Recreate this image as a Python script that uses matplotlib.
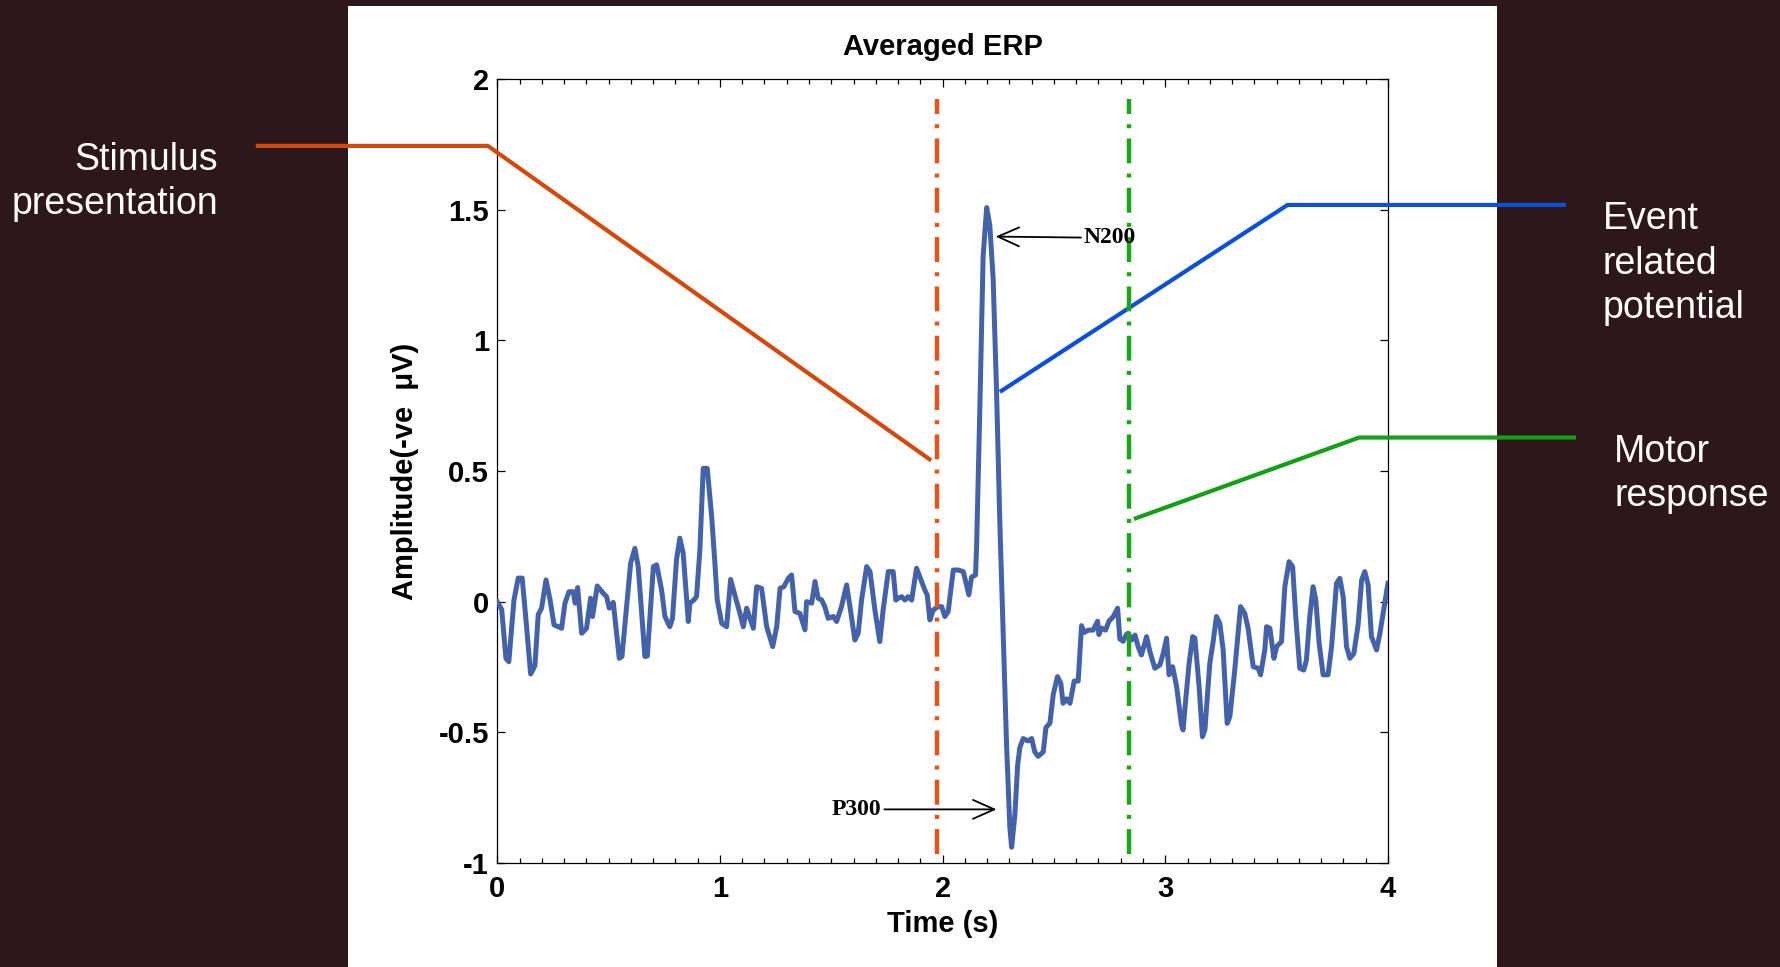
import matplotlib
matplotlib.use('Agg')
import matplotlib.pyplot as plt
from matplotlib.patches import Rectangle
from matplotlib.ticker import MultipleLocator

plt.rcParams['font.family'] = ['Liberation Sans', 'DejaVu Sans']

# averaged ERP trace (time in s, amplitude)
t_a = [0.0, 0.02, 0.039, 0.052, 0.075, 0.094, 0.112, 0.129, 0.15, 0.169,
       0.184, 0.199, 0.219, 0.237, 0.255, 0.274, 0.289, 0.304, 0.322, 0.341,
       0.35, 0.361, 0.379, 0.401, 0.419, 0.428, 0.449, 0.476, 0.491, 0.503,
       0.521, 0.548, 0.56, 0.581, 0.599, 0.618, 0.633, 0.663, 0.674, 0.701,
       0.716, 0.738, 0.753, 0.775, 0.787, 0.805, 0.82, 0.835, 0.858, 0.865,
       0.883, 0.895, 0.91, 0.925, 0.943, 0.963, 0.977, 0.988]
y_a = [0.0, -0.03, -0.217, -0.23, 0.006, 0.09, 0.09, -0.07, -0.277, -0.246,
       -0.05, -0.025, 0.083, 0.008, -0.089, -0.096, -0.102, -0.006, 0.038, 0.038,
       -0.006, 0.054, -0.121, -0.102, 0.013, -0.057, 0.06, 0.032, 0.019, -0.025,
       -0.003, -0.217, -0.21, -0.019, 0.147, 0.204, 0.134, -0.21, -0.208, 0.134,
       0.141, 0.045, -0.057, -0.096, -0.064, 0.16, 0.243, 0.185, -0.076, -0.006,
       0.006, 0.019, 0.198, 0.51, 0.51, 0.325, 0.153, 0.006]

t_b = [1.008, 1.03, 1.048, 1.067, 1.09, 1.105, 1.12, 1.135, 1.15, 1.165,
       1.187, 1.21, 1.237, 1.255, 1.27, 1.287, 1.307, 1.322, 1.337, 1.359,
       1.382, 1.389, 1.412, 1.427, 1.441, 1.457, 1.471, 1.486, 1.509, 1.524,
       1.546, 1.569, 1.584, 1.606, 1.621, 1.636, 1.659, 1.674, 1.696, 1.718,
       1.733, 1.756, 1.778, 1.79, 1.801, 1.816, 1.831, 1.845, 1.861, 1.883,
       1.906, 1.92, 1.931, 1.943, 1.958, 1.98, 1.996, 2.01, 2.025, 2.048,
       2.07, 2.093]
y_b = [-0.083, -0.096, 0.085, 0.025, -0.045, -0.096, -0.025, -0.064, -0.102, 0.057,
       0.051, -0.096, -0.172, -0.096, 0.051, 0.057, 0.089, 0.102, -0.038, -0.045,
       -0.108, 0.0, -0.006, 0.077, 0.013, 0.006, -0.019, -0.064, -0.057, -0.076,
       -0.019, 0.064, -0.019, -0.147, -0.121, 0.006, 0.134, 0.115, -0.032, -0.153,
       -0.032, 0.115, 0.115, 0.006, 0.013, 0.019, 0.006, 0.019, 0.006, 0.128,
       0.077, 0.045, 0.025, -0.07, -0.032, -0.019, -0.019, -0.057, -0.038, 0.121,
       0.121, 0.115]

t_c = [2.118, 2.13, 2.148, 2.153, 2.167, 2.182, 2.198, 2.212, 2.227, 2.242,
       2.257, 2.272, 2.287, 2.302, 2.31, 2.325, 2.337, 2.347, 2.362, 2.384,
       2.4, 2.414, 2.429, 2.452, 2.464, 2.482, 2.497, 2.516, 2.531, 2.541,
       2.557, 2.572, 2.591, 2.609, 2.624, 2.636, 2.654, 2.676, 2.696, 2.702,
       2.714, 2.732, 2.747, 2.766, 2.786, 2.796, 2.811, 2.825]
y_c = [0.026, 0.094, 0.102, 0.221, 0.729, 1.321, 1.508, 1.44, 1.237, 0.814,
       0.305, -0.118, -0.541, -0.863, -0.94, -0.812, -0.626, -0.558, -0.524, -0.533,
       -0.524, -0.575, -0.592, -0.575, -0.482, -0.465, -0.355, -0.287, -0.313, -0.389,
       -0.372, -0.389, -0.304, -0.304, -0.092, -0.118, -0.109, -0.109, -0.075, -0.126,
       -0.101, -0.109, -0.075, -0.058, -0.025, -0.143, -0.152, -0.126]

t_d = [2.833, 2.849, 2.864, 2.878, 2.893, 2.916, 2.931, 2.953, 2.976, 2.991,
       3.006, 3.017, 3.033, 3.051, 3.073, 3.08, 3.093, 3.107, 3.123, 3.133,
       3.152, 3.167, 3.178, 3.2, 3.215, 3.23, 3.245, 3.26, 3.278, 3.29,
       3.312, 3.327, 3.338, 3.357, 3.372, 3.395, 3.417, 3.428, 3.447, 3.455,
       3.47, 3.488, 3.5, 3.522, 3.537, 3.556, 3.572, 3.586, 3.604, 3.622,
       3.634, 3.649, 3.664, 3.676, 3.691, 3.709, 3.731, 3.747, 3.769, 3.784,
       3.799, 3.814, 3.829, 3.847, 3.866, 3.882, 3.896, 3.911, 3.926, 3.949,
       3.964, 4.0]
y_d = [-0.121, -0.147, -0.128, -0.172, -0.204, -0.134, -0.191, -0.255, -0.242, -0.198,
       -0.14, -0.28, -0.249, -0.325, -0.472, -0.491, -0.364, -0.236, -0.134, -0.14,
       -0.325, -0.517, -0.491, -0.236, -0.153, -0.057, -0.083, -0.185, -0.466, -0.44,
       -0.262, -0.121, -0.019, -0.045, -0.102, -0.249, -0.255, -0.28, -0.185, -0.096,
       -0.102, -0.217, -0.172, -0.153, 0.057, 0.153, 0.134, -0.057, -0.255, -0.262,
       -0.223, -0.057, 0.057, 0.006, -0.159, -0.28, -0.28, -0.172, 0.07, 0.089,
       0.019, -0.172, -0.217, -0.198, -0.089, 0.083, 0.115, 0.064, -0.134, -0.185,
       -0.121, 0.07]

time_s = t_a + t_b + t_c + t_d
amplitude = y_a + y_b + y_c + y_d

# event markers
stim_time = 1.976
motor_time = 2.837
marker_lo, marker_hi = -0.966, 1.925

# callout lines (data units, run out past the axes)
stim_call_t = [-1.075, -0.042, 1.941]
stim_call_y = [1.744, 1.744, 0.545]
erp_call_t = [2.265, 3.549, 4.79]
erp_call_y = [0.807, 1.518, 1.518]
motor_call_t = [2.868, 3.871, 4.835]
motor_call_y = [0.319, 0.628, 0.628]

xticks = [0, 1, 2, 3, 4]
xtick_labels = ['0', '1', '2', '3', '4']
yticks = [-1, -0.5, 0, 0.5, 1, 1.5, 2]
ytick_labels = ['-1', '-0.5', '0', '0.5', '1', '1.5', '2']

bg = '#2e171b'
fig = plt.figure(figsize=(17.81, 9.67), dpi=100, facecolor=bg)
fig.add_artist(Rectangle((0.1954, 0), 0.6451, 0.9938, transform=fig.transFigure,
                         facecolor='white', edgecolor='none', zorder=-1))

ax = fig.add_axes([0.2792, 0.1076, 0.5001, 0.8107])
ax.plot(time_s, amplitude, color='#4462aa', lw=3.6, solid_joinstyle='round', zorder=3)

ax.plot(stim_call_t, stim_call_y, color='#d4490b', lw=3.0, clip_on=False, zorder=4)
ax.plot(erp_call_t, erp_call_y, color='#0b50d8', lw=3.0, clip_on=False, zorder=4)
ax.plot(motor_call_t, motor_call_y, color='#14a014', lw=3.0, clip_on=False, zorder=4)

ax.plot([stim_time, stim_time], [marker_lo, marker_hi], color='#e4531b', lw=3.2,
        dashes=(5.6, 2.3, 0.9, 2.3), zorder=5)
ax.plot([motor_time, motor_time], [marker_lo, marker_hi], color='#1aa61a', lw=3.2,
        dashes=(5.6, 2.3, 0.9, 2.3), zorder=5)

serif = ['Liberation Serif', 'DejaVu Serif']
arrow = dict(arrowstyle='->,head_length=0.9,head_width=0.4', color='black', lw=1.3,
             shrinkA=0, shrinkB=0)
ax.annotate('N200', xy=(2.238, 1.397), xytext=(2.634, 1.392), ha='left', va='center',
            family=serif, fontsize=17, fontweight='bold', arrowprops=arrow, zorder=6)
ax.annotate('P300', xy=(2.242, -0.795), xytext=(1.726, -0.795), ha='right', va='center',
            family=serif, fontsize=17, fontweight='bold', arrowprops=arrow, zorder=6)

ax.set_xlim(0, 4)
ax.set_ylim(-1, 2)
ax.set_xticks(xticks)
ax.set_xticklabels(xtick_labels)
ax.set_yticks(yticks)
ax.set_yticklabels(ytick_labels)
ax.xaxis.set_minor_locator(MultipleLocator(0.1))
ax.tick_params(which='both', direction='in', top=True, right=True, width=0.9,
               labelsize=21, pad=6)
ax.tick_params(axis='x', which='both', pad=9)
ax.tick_params(which='major', length=6)
ax.tick_params(which='minor', length=3.5)
for lab in ax.get_xticklabels() + ax.get_yticklabels():
    lab.set_fontweight('bold')
for sp in ax.spines.values():
    sp.set_linewidth(0.9)

ax.set_title('Averaged ERP', fontsize=21, fontweight='bold', pad=17)
ax.set_xlabel('Time (s)', fontsize=21, fontweight='bold', labelpad=5)
ax.set_ylabel('Amplitude(-ve  μV)', fontsize=21, fontweight='bold', labelpad=14)

side = dict(color='white', fontsize=27, va='baseline', linespacing=1.3)
fig.text(0.1224, 0.7787, 'Stimulus\npresentation', ha='right', multialignment='right', **side)
fig.text(0.8999, 0.6712, 'Event\nrelated\npotential', ha='left', **side)
fig.text(0.9064, 0.4767, 'Motor\nresponse', ha='left', **side)

fig.savefig('out.png', dpi=100, facecolor=bg)
